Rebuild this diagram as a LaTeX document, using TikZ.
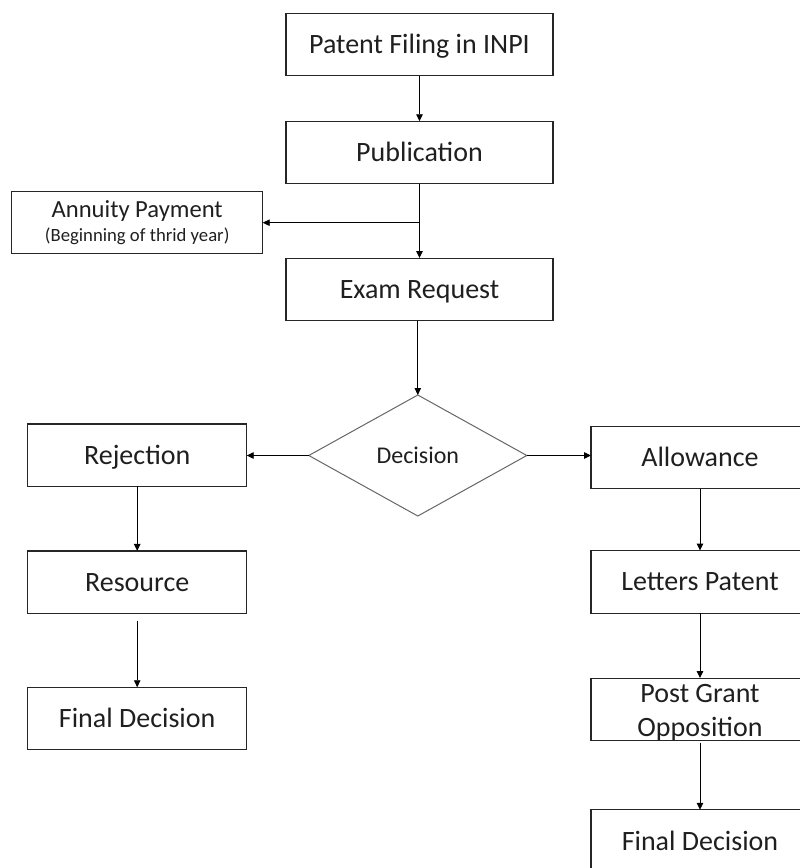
\documentclass[tikz,border=0pt]{standalone}
\usepackage{fontspec}
\setmainfont{Carlito}
\usetikzlibrary{shapes.geometric,arrows.meta}
\begin{document}
\begin{tikzpicture}[x=1pt,y=-1pt,
  base/.style={rectangle, draw=black!85, line width=1.1pt, inner sep=0pt, outer sep=0pt,
    text=black!88, minimum height=62.5pt},
  one/.style={font=\fontsize{28}{34}\selectfont, text height=18pt, text depth=0pt},
  cbox/.style={base, one, minimum width=267pt},
  sbox/.style={base, one, minimum width=219pt},
  dec/.style={diamond, draw=black!60, line width=1pt, inner sep=0pt, outer sep=0pt,
    minimum width=218pt, minimum height=121pt, text=black!88,
    font=\fontsize{24}{28}\selectfont, text height=15.5pt, text depth=0pt},
  arr/.style={draw=black, line width=0.9pt, -{Triangle[length=7pt,width=6.5pt]}}
]
\useasboundingbox (0,0) rectangle (800,868);
\clip (0,0) rectangle (800,868);

\node[cbox] (pat) at (419.5,44.5) {Patent Filing in INPI};
\node[cbox] (pub) at (419.5,152.5) {Publication};
\node[base, minimum width=251pt, minimum height=62pt, align=center,
  font=\fontsize{24.6}{30}\selectfont] (ann) at (137.2,222.5)
  {Annuity Payment\\[-6pt]{\fontsize{18.7}{22}\selectfont (Beginning of thrid year)}};
\node[cbox] (exam) at (419.5,289.3) {Exam Request};
\node[dec] (dia) at (417.8,455.5) {Decision};

\node[sbox] (rej) at (137.2,455.2) {Rejection};
\node[sbox] (res) at (137.2,582.2) {Resource};
\node[sbox] (fin1) at (137.2,718.5) {Final Decision};

\node[sbox, minimum width=218pt] (allow) at (700,457.3) {Allowance};
\node[sbox, minimum width=218pt] (let) at (700,581.8) {Letters Patent};
\node[base, minimum width=218pt, align=center, font=\fontsize{28}{34}\selectfont]
  (pga) at (700,709.3) {\rule{0pt}{24pt}Post Grant\\Opposition};
\node[sbox, minimum width=218pt] (fin2) at (700,841) {Final Decision};

\coordinate (j) at (419.5,222.7);

\draw[arr] (pat) -- (pub);
\draw[arr] (pub) -- (exam);
\draw[arr] (j) -- (j -| ann.east);
\draw[arr] (exam.south -| dia.north) -- (dia.north);
\draw[arr] (dia.west) -- (dia.west -| rej.east);
\draw[arr] (dia.east) -- (dia.east -| allow.west);
\draw[arr] (rej) -- (res);
\draw[arr, shorten <=8pt] (res) -- (fin1);
\draw[arr] (allow) -- (let);
\draw[arr] (let) -- (pga);
\draw[arr, shorten <=2pt] (pga) -- (fin2);
\end{tikzpicture}
\end{document}
